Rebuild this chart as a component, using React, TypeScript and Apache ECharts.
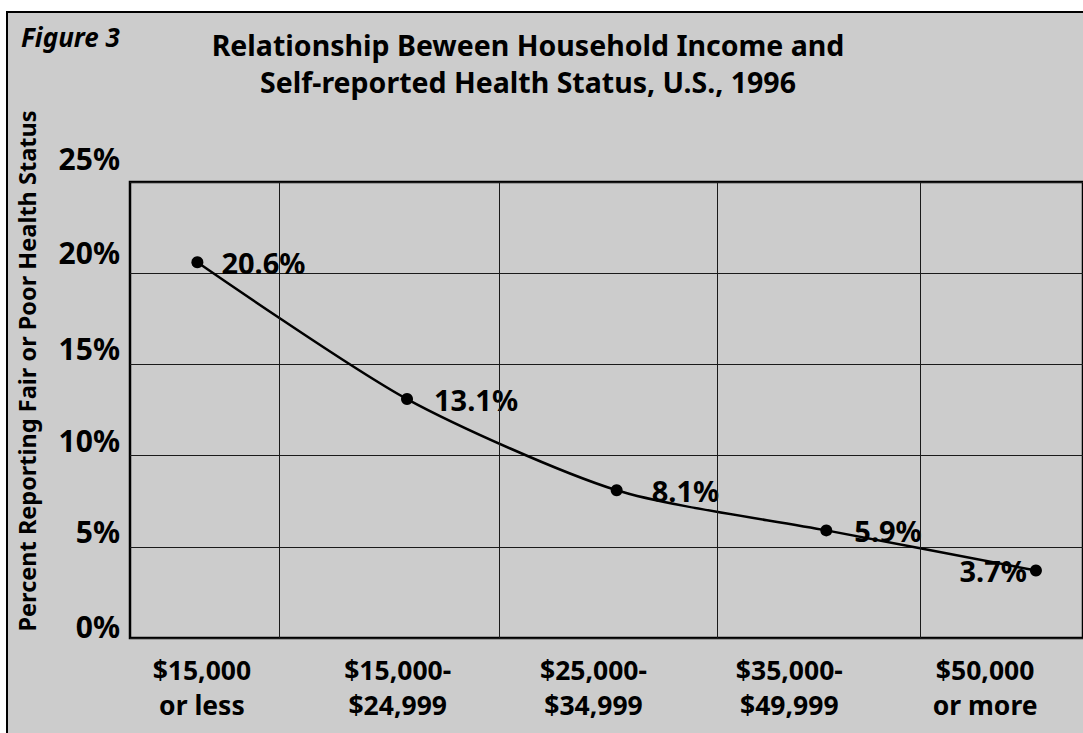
import React, { useEffect, useRef } from "react";
import * as echarts from "echarts";

// ---- data ----
const incomeGroups = [
  "$15,000\nor less",
  "$15,000-\n$24,999",
  "$25,000-\n$34,999",
  "$35,000-\n$49,999",
  "$50,000\nor more",
];
const fairPoorShare = [20.6, 13.1, 8.1, 5.9, 3.7];
const yTicks = [0, 5, 10, 15, 20, 25];
const columnDividers = [0.392, 1.438, 2.484, 3.449];
const titleLines = [
  "Relationship Beween Household Income and",
  "Self-reported Health Status, U.S., 1996",
];
const figureLabel = "Figure 3";
const yAxisTitle = "Percent Reporting Fair or Poor Health Status";

// ---- styling ----
const FONT = "'Noto Sans', 'Open Sans', sans-serif";
const labelPlacement = [
  { position: "right", distance: 18 },
  { position: "right", distance: 21 },
  { position: "right", distance: 29 },
  { position: "right", distance: 22 },
  { position: "left", distance: 3 },
];
// vertical lift of each y tick label above its gridline (as line height)
const tickLift: Record<number, string> = {
  0: "l0",
  5: "l5",
  10: "l10",
  15: "l15",
  20: "l20",
  25: "l25",
};
const tickRich = (() => {
  const base = {
    fontFamily: FONT,
    fontSize: 30,
    fontWeight: "bold",
    color: "#000",
  };
  return {
    l0: { ...base, lineHeight: 24 },
    l5: { ...base, lineHeight: 30 },
    l10: { ...base, lineHeight: 30 },
    l15: { ...base, lineHeight: 32 },
    l20: { ...base, lineHeight: 42 },
    l25: { ...base, lineHeight: 48 },
  };
})();

export default function App() {
  const ref = useRef<HTMLDivElement>(null);

  useEffect(() => {
    if (!ref.current) return;
    const chart = echarts.init(ref.current, undefined, { renderer: "svg" });
    const option: any = {
      animation: false,
      backgroundColor: "#ffffff",
      graphic: [
        {
          type: "rect",
          z: -10,
          shape: { x: 7, y: 12, width: 1100, height: 800 },
          style: { fill: "#cccccc", stroke: "#000", lineWidth: 2 },
        },
        {
          type: "text",
          x: 21,
          y: 37,
          style: {
            text: figureLabel,
            fontFamily: FONT,
            fontSize: 26,
            fontWeight: "bold",
            fontStyle: "italic",
            fill: "#000",
            align: "left",
            verticalAlign: "middle",
          },
        },
        {
          type: "text",
          x: 528,
          y: 26,
          style: {
            text: titleLines.join("\n"),
            fontFamily: FONT,
            fontSize: 28.5,
            fontWeight: "bold",
            lineHeight: 37,
            fill: "#000",
            align: "center",
            verticalAlign: "top",
          },
        },
        {
          type: "text",
          x: 27,
          y: 371,
          rotation: Math.PI / 2,
          style: {
            text: yAxisTitle,
            fontFamily: FONT,
            fontSize: 23.5,
            fontWeight: "bold",
            fill: "#000",
            align: "center",
            verticalAlign: "middle",
          },
        },
      ],
      grid: [
        {
          left: 130,
          top: 182,
          right: -3,
          bottom: 95,
          show: true,
          borderColor: "#000",
          borderWidth: 2.5,
          backgroundColor: "transparent",
        },
        { left: 104, right: -31, top: 182, bottom: 95 },
      ],
      xAxis: [
        {
          type: "value",
          gridIndex: 0,
          min: -0.3214,
          max: 4.2245,
          axisLine: { show: false },
          axisTick: { show: false },
          axisLabel: { show: false },
          splitLine: { show: false },
        },
        {
          type: "category",
          gridIndex: 1,
          data: incomeGroups,
          boundaryGap: true,
          axisLine: { show: false },
          axisTick: { show: false },
          splitLine: { show: false },
          axisLabel: {
            interval: 0,
            fontFamily: FONT,
            fontSize: 26.5,
            fontWeight: "bold",
            color: "#000",
            lineHeight: 35,
            margin: 14,
          },
        },
      ],
      yAxis: [
        {
          type: "value",
          gridIndex: 0,
          min: yTicks[0],
          max: yTicks[yTicks.length - 1],
          interval: yTicks[1] - yTicks[0],
          axisLine: { show: false },
          axisTick: { show: false },
          splitLine: { lineStyle: { color: "#1a1a1a", width: 1 } },
          axisLabel: {
            formatter: (v: number) => `{${tickLift[v] || "l10"}|${v}%}`,
            rich: tickRich,
            verticalAlign: "bottom",
            margin: 10,
          },
        },
        { type: "value", gridIndex: 1, show: false },
      ],
      series: [
        {
          type: "line",
          xAxisIndex: 0,
          yAxisIndex: 0,
          z: 3,
          smooth: 0.25,
          symbol: "circle",
          symbolSize: 12,
          lineStyle: { color: "#000", width: 2.5 },
          itemStyle: { color: "#000" },
          label: {
            show: true,
            formatter: (p: any) => `${p.value[1].toFixed(1)}%`,
            fontFamily: FONT,
            fontSize: 29,
            fontWeight: "bold",
            color: "#000",
          },
          data: fairPoorShare.map((v, i) => ({
            value: [i, v],
            label: labelPlacement[i],
          })),
          markLine: {
            silent: true,
            symbol: "none",
            label: { show: false },
            lineStyle: { color: "#1a1a1a", width: 1, type: "solid" },
            data: columnDividers.map((x) => ({ xAxis: x })),
          },
        },
      ],
    };
    chart.setOption(option);
    return () => chart.dispose();
  }, []);

  return (
    <div
      ref={ref}
      style={{ position: "fixed", left: 0, top: 0, width: 1083, height: 733 }}
    />
  );
}
